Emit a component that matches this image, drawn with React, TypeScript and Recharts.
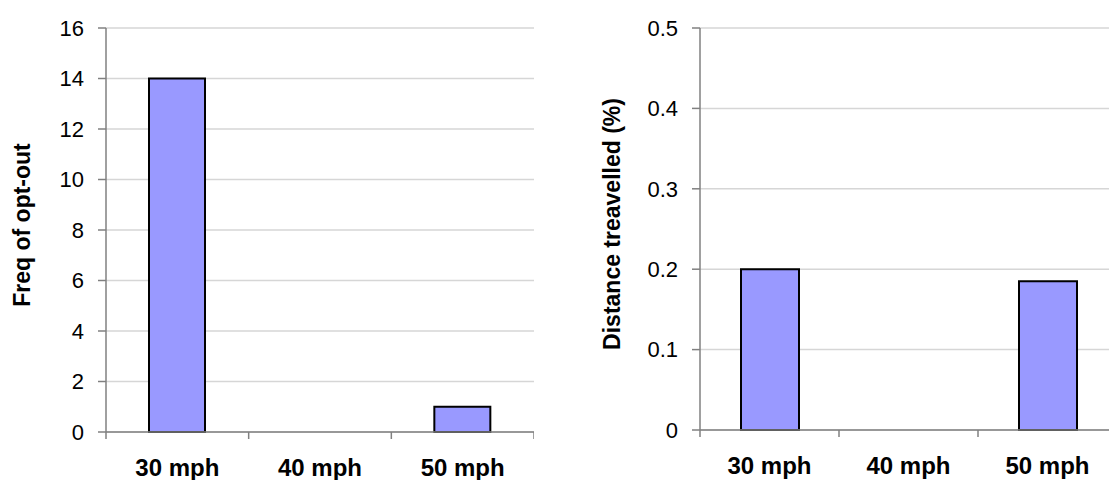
import React from 'react';
import { BarChart, Bar, XAxis, YAxis, CartesianGrid } from 'recharts';

const categories = ['30 mph', '40 mph', '50 mph'];
const freqOptOut = [14, 0, 1];
const distanceTravelled = [0.2, 0, 0.185];
const freqTicks = [0, 2, 4, 6, 8, 10, 12, 14, 16];
const distTicks = [0, 0.1, 0.2, 0.3, 0.4, 0.5];
const boundaryTicks = [0, 0.5, 1, 1.5, 2, 2.5, 3];

const FONT = '"Liberation Sans", Arial, sans-serif';
const AXIS_COLOR = '#808080';
const GRID_COLOR = '#d6d6d6';
const BAR_FILL = '#9999FF';

const buildData = (values: number[]) =>
  categories.map((name, i) => ({ name, pos: i + 0.5, value: values[i] }));

const freqData = buildData(freqOptOut);
const distData = buildData(distanceTravelled);

const BoundaryTick = (props: any) => {
  const { x, y, payload } = props;
  const v = Number(payload.value);
  if (Number.isInteger(v)) {
    return <line x1={x} y1={y} x2={x} y2={y + 7} stroke={AXIS_COLOR} strokeWidth={1.5} />;
  }
  const label = categories[Math.floor(v)];
  return (
    <text x={x} y={y + 44} textAnchor="middle" fontFamily={FONT} fontWeight="bold" fontSize={24} fill="#000">
      {label}
    </text>
  );
};

const makeYTitle = (text: string, dx: number) => (props: any) => {
  const vb = props.viewBox || { x: 0, y: 0, width: 0, height: 0 };
  const cx = vb.x + dx;
  const cy = vb.y + vb.height / 2 - 5;
  return (
    <text
      x={cx}
      y={cy}
      transform={`rotate(-90, ${cx}, ${cy})`}
      textAnchor="middle"
      dominantBaseline="central"
      fontFamily={FONT}
      fontWeight="bold"
      fontSize={23}
      fill="#000"
    >
      {text}
    </text>
  );
};

type PanelProps = {
  data: any[];
  width: number;
  yWidth: number;
  xHeight: number;
  domain: [number, number];
  ticks: number[];
  title: string;
  titleX: number;
  barSize: number;
};

const Panel = ({ data, width, yWidth, xHeight, domain, ticks, title, titleX, barSize }: PanelProps) => (
  <BarChart width={width} height={480} data={data} margin={{ top: 28, right: 0, left: 0, bottom: 0 }}>
    <CartesianGrid vertical={false} stroke={GRID_COLOR} strokeWidth={1.5} />
    <XAxis xAxisId="cat" dataKey="name" type="category" hide />
    <XAxis
      dataKey="pos"
      type="number"
      domain={[0, 3]}
      ticks={boundaryTicks}
      interval={0}
      height={xHeight}
      tickSize={0}
      tickMargin={0}
      tickLine={false}
      axisLine={{ stroke: AXIS_COLOR, strokeWidth: 1.5 }}
      tick={<BoundaryTick />}
    />
    <YAxis
      width={yWidth}
      domain={domain}
      ticks={ticks}
      interval={0}
      tickSize={8}
      tickMargin={14}
      axisLine={{ stroke: AXIS_COLOR, strokeWidth: 1.5 }}
      tickLine={{ stroke: AXIS_COLOR, strokeWidth: 1.5 }}
      tick={{ fill: '#000', fontSize: 22, fontFamily: FONT }}
      label={{ content: makeYTitle(title, titleX) }}
    />
    <Bar
      xAxisId="cat"
      dataKey="value"
      fill={BAR_FILL}
      stroke="#000"
      strokeWidth={2}
      barSize={barSize}
      isAnimationActive={false}
    />
  </BarChart>
);

export default function App() {
  return (
    <div
      style={{
        position: 'fixed',
        left: 0,
        top: 0,
        width: 1109,
        height: 480,
        overflow: 'hidden',
        background: '#fff',
      }}
    >
      <div style={{ position: 'absolute', left: 0, top: 0 }}>
        <Panel
          data={freqData}
          width={534}
          yWidth={106}
          xHeight={48}
          domain={[0, 16]}
          ticks={freqTicks}
          title="Freq of opt-out"
          titleX={22}
          barSize={56}
        />
      </div>
      <div style={{ position: 'absolute', left: 560, top: 0 }}>
        <Panel
          data={distData}
          width={557}
          yWidth={140}
          xHeight={50}
          domain={[0, 0.5]}
          ticks={distTicks}
          title="Distance treavelled (%)"
          titleX={52}
          barSize={58}
        />
      </div>
    </div>
  );
}
